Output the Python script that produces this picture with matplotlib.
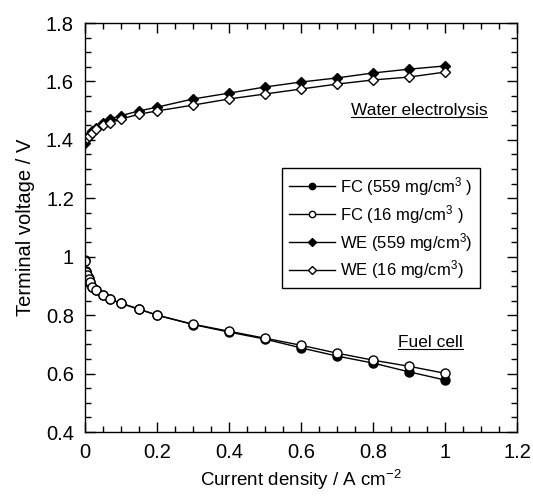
import matplotlib
matplotlib.use('Agg')
import matplotlib.pyplot as plt
from matplotlib.ticker import MultipleLocator

plt.rcParams['font.family'] = ['Liberation Sans', 'DejaVu Sans']
plt.rcParams['mathtext.fontset'] = 'custom'
plt.rcParams['mathtext.rm'] = 'Liberation Sans'
plt.rcParams['mathtext.default'] = 'regular'

# Data
fc_x = [0, 0.002, 0.005, 0.01, 0.015, 0.02, 0.03, 0.05, 0.07, 0.1, 0.15, 0.2,
        0.3, 0.4, 0.5, 0.6, 0.7, 0.8, 0.9, 1.0]
fc_559 = [0.988, 0.95, 0.938, 0.926, 0.913, 0.898, 0.886, 0.868, 0.854, 0.840,
          0.820, 0.800, 0.768, 0.742, 0.718, 0.688, 0.660, 0.636, 0.606, 0.578]
fc_16 = [0.985, 0.947, 0.937, 0.925, 0.913, 0.897, 0.886, 0.868, 0.855, 0.841,
         0.821, 0.800, 0.769, 0.745, 0.721, 0.697, 0.670, 0.646, 0.625, 0.601]

we_x = [0, 0.005, 0.01, 0.02, 0.03, 0.05, 0.07, 0.1, 0.15, 0.2,
        0.3, 0.4, 0.5, 0.6, 0.7, 0.8, 0.9, 1.0]
we_559 = [1.390, 1.408, 1.418, 1.430, 1.442, 1.458, 1.472, 1.483, 1.499, 1.512,
          1.540, 1.560, 1.581, 1.598, 1.612, 1.629, 1.642, 1.653]
we_16 = [1.402, 1.406, 1.414, 1.425, 1.438, 1.452, 1.458, 1.471, 1.488, 1.499,
         1.519, 1.540, 1.557, 1.574, 1.591, 1.605, 1.615, 1.632]

x_ticks = [0, 0.2, 0.4, 0.6, 0.8, 1.0, 1.2]
x_ticklabels = ['0', '0.2', '0.4', '0.6', '0.8', '1', '1.2']
y_ticks = [0.4, 0.6, 0.8, 1.0, 1.2, 1.4, 1.6, 1.8]
y_ticklabels = ['0.4', '0.6', '0.8', '1', '1.2', '1.4', '1.6', '1.8']

labels = ['FC (559 mg/cm$^{3}$ )', 'FC (16 mg/cm$^{3}$ )',
          'WE (559 mg/cm$^{3}$)', 'WE (16 mg/cm$^{3}$)']

fig = plt.figure(figsize=(5.33, 4.98), dpi=100)
ax = fig.add_axes([0.1595, 0.1325, 0.8105, 0.8213])

ax.plot(fc_x, fc_559, '-o', color='black', mfc='black', ms=6.5, lw=1, label=labels[0])
ax.plot(fc_x, fc_16, '-o', color='black', mfc='white', ms=6.5, lw=1, label=labels[1])
ax.plot(we_x, we_559, '-D', color='black', mfc='black', ms=5.5, lw=1, label=labels[2])
ax.plot(we_x, we_16, '-D', color='black', mfc='white', ms=5.5, lw=1, label=labels[3])

ax.set_xlim(0, 1.2)
ax.set_ylim(0.4, 1.8)
ax.set_xticks(x_ticks)
ax.set_xticklabels(x_ticklabels)
ax.set_yticks(y_ticks)
ax.set_yticklabels(y_ticklabels)
ax.xaxis.set_minor_locator(MultipleLocator(0.05))
ax.yaxis.set_minor_locator(MultipleLocator(0.05))
ax.tick_params(which='both', direction='in', top=True, right=True, labelsize=14.5, width=1)
ax.tick_params(which='major', length=7, pad=8)
ax.tick_params(which='minor', length=4)
for s in ax.spines.values():
    s.set_linewidth(1)

ax.set_xlabel('Current density / A cm$^{-2}$', fontsize=13.5, labelpad=4)
ax.set_ylabel('Terminal voltage / V', fontsize=14.5, labelpad=8)

# Underlined annotations
t1 = ax.text(1.117, 1.5, 'Water electrolysis', fontsize=12.5, ha='right', va='center')
t2 = ax.text(1.05, 0.705, 'Fuel cell', fontsize=12.5, ha='right', va='center')

leg = ax.legend(loc='upper left', bbox_to_anchor=(0.456, 0.645), fontsize=12,
                frameon=True, fancybox=False, edgecolor='black', framealpha=1,
                handlelength=2.8, markerscale=0.7, borderpad=0.4, labelspacing=0.3,
                handletextpad=0.3, borderaxespad=0)
leg.get_frame().set_linewidth(1)

fig.canvas.draw()
r = fig.canvas.get_renderer()
inv = ax.transData.inverted()
for t in (t1, t2):
    bb = t.get_window_extent(r)
    (x0, y0), (x1, _) = inv.transform([(bb.x0, bb.y0), (bb.x1, bb.y0)])
    ax.plot([x0, x1], [y0 + 0.004, y0 + 0.004], color='black', lw=0.8)

fig.savefig('out.png', dpi=100)
